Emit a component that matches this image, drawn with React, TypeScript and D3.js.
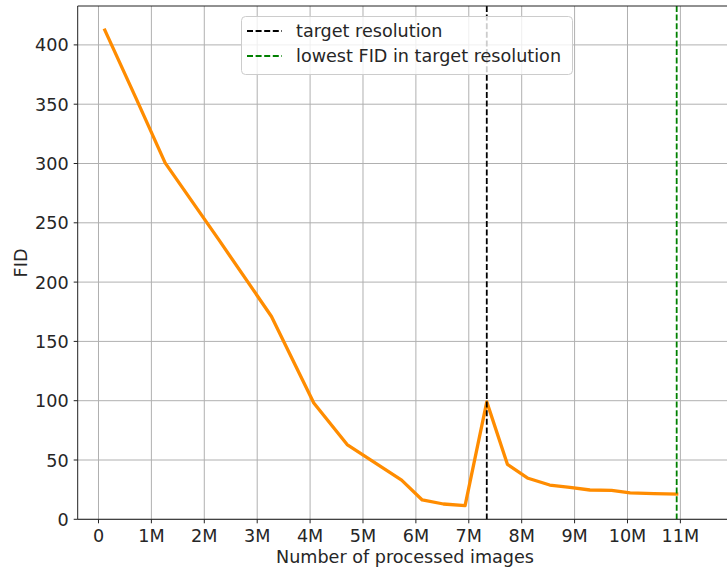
import React from "react";
import * as d3 from "d3";

const processedImagesM = [0.12, 0.7, 1.26, 2.27, 3.27, 4.07, 4.7, 5.73, 6.12, 6.52, 6.93, 7.34, 7.73, 8.12, 8.53, 8.91, 9.29, 9.7, 10.05, 10.5, 10.93];
const fidValues = [412.5, 356, 300.5, 236, 171, 98, 63, 33, 16.3, 12.9, 11.5, 99, 46.4, 34.6, 28.9, 27, 24.7, 24.4, 22.2, 21.6, 21.3];
const xTicks = [0, 1, 2, 3, 4, 5, 6, 7, 8, 9, 10, 11];
const xTickLabels = ["0", "1M", "2M", "3M", "4M", "5M", "6M", "7M", "8M", "9M", "10M", "11M"];
const yTicks = [0, 50, 100, 150, 200, 250, 300, 350, 400];
const targetResolutionM = 7.34;
const lowestFidM = 10.93;
const legendLabels = ["target resolution", "lowest FID in target resolution"];

const W = 727;
const H = 569;
const L = 77.7;
const T = 6;
const B = 519.3;

export default function App() {
  const x = d3.scaleLinear().domain([-0.393, 12]).range([L, L + 12.393 * 52.9]);
  const y = d3.scaleLinear().domain([0, 432.8]).range([B, T]);
  const line = d3
    .line<number>()
    .x((_, i) => x(processedImagesM[i]))
    .y((d) => y(d));
  const font = "DejaVu Sans, sans-serif";
  const fs = 17.6;
  const textColor = "#262626";
  return (
    <svg width={W} height={H} style={{ position: "absolute", left: 0, top: 0, background: "#fff" }} fontFamily={font}>
      <rect x={0} y={0} width={W} height={H} fill="#fff" />
      {xTicks.map((t) => (
        <line key={"gx" + t} x1={x(t)} x2={x(t)} y1={T} y2={B} stroke="#b0b0b0" strokeWidth={1} />
      ))}
      {yTicks.map((t) => (
        <line key={"gy" + t} x1={L} x2={W} y1={y(t)} y2={y(t)} stroke="#b0b0b0" strokeWidth={1} />
      ))}
      <path d={line(fidValues) || ""} fill="none" stroke="#ff8c00" strokeWidth={3.3} strokeLinejoin="round" strokeLinecap="square" />
      <line x1={x(targetResolutionM)} x2={x(targetResolutionM)} y1={T} y2={B} stroke="#000" strokeWidth={1.8} strokeDasharray="6 2.6" />
      <line x1={x(lowestFidM)} x2={x(lowestFidM)} y1={T} y2={B} stroke="#008000" strokeWidth={1.8} strokeDasharray="6 2.6" />
      <line x1={L} x2={L} y1={T} y2={B} stroke="#222" strokeWidth={1} />
      <line x1={L} x2={W} y1={B} y2={B} stroke="#222" strokeWidth={1} />
      <line x1={L} x2={W} y1={T} y2={T} stroke="#222" strokeWidth={1} />
      {xTicks.map((t, i) => (
        <g key={"xt" + t}>
          <line x1={x(t)} x2={x(t)} y1={B} y2={B + 4} stroke="#222" strokeWidth={1} />
          <text x={x(t)} y={B + 23} textAnchor="middle" fontSize={fs} fill={textColor}>
            {xTickLabels[i]}
          </text>
        </g>
      ))}
      {yTicks.map((t) => (
        <g key={"yt" + t}>
          <line x1={L - 4} x2={L} y1={y(t)} y2={y(t)} stroke="#222" strokeWidth={1} />
          <text x={L - 9} y={y(t) + 6.5} textAnchor="end" fontSize={fs} fill={textColor}>
            {t}
          </text>
        </g>
      ))}
      <text x={405} y={563} textAnchor="middle" fontSize={fs} fill={textColor}>
        Number of processed images
      </text>
      <text transform={`translate(27, 263) rotate(-90)`} textAnchor="middle" fontSize={fs} fill={textColor}>
        FID
      </text>
      <g>
        <rect x={241.5} y={16.5} width={331} height={58} rx={4} fill="#fff" fillOpacity={0.8} stroke="#cccccc" strokeWidth={1} />
        <line x1={247} x2={282} y1={31} y2={31} stroke="#000" strokeWidth={1.8} strokeDasharray="6 2.6" />
        <text x={296} y={37} fontSize={fs} fill={textColor}>
          {legendLabels[0]}
        </text>
        <line x1={247} x2={282} y1={56} y2={56} stroke="#008000" strokeWidth={1.8} strokeDasharray="6 2.6" />
        <text x={296} y={62} fontSize={fs} fill={textColor}>
          {legendLabels[1]}
        </text>
      </g>
    </svg>
  );
}
